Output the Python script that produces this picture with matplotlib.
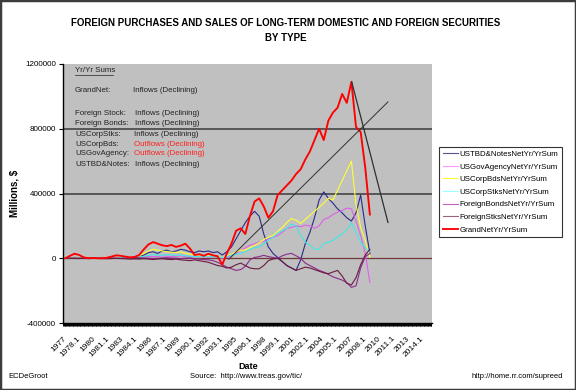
import numpy as np
import matplotlib
matplotlib.use("Agg")
import matplotlib.pyplot as plt
from matplotlib.patches import Rectangle
from matplotlib.ticker import MultipleLocator, FuncFormatter

plt.rcParams['font.family'] = ['Liberation Sans', 'DejaVu Sans']

# observation dates (yr/yr sums, roughly every 6 months)
dates = np.linspace(1977.25, 2009.2, 67)

# values in thousands of millions $
grand_net = [0, 15, 28, 20, 5, 0, 2, 0, 0, 3, 10, 18, 15, 10, 5, 8, 20,
             55, 85, 100, 90, 80, 75, 82, 70, 78, 90, 60, 20, 25, 15, 28, 18, 12,
             -40, 30, 90, 170, 185, 150, 260, 350, 370, 320, 250, 290, 390, 420,
             450, 480, 520, 550, 610, 660, 730, 800, 730, 850, 900, 930, 1015,
             960, 1090, 810, 780, 560, 270]
ustbd = [0, 2, 5, 3, 0, -2, 0, 2, 5, 3, 0, 2, 5, 8, 5, 3, 10,
         20, 35, 40, 30, 45, 50, 40, 45, 55, 50, 40, 35, 45, 40, 45, 35, 40,
         20, 40, 70, 120, 170, 220, 260, 290, 260, 150, 70, 30, 5, -20, -45,
         -60, -75, -10, 90, 160, 250, 360, 410, 370, 340, 305, 280, 250, 230,
         280, 390, 200, 30]
us_gov_agency = [0, 0, 2, 3, 2, 0, 0, 2, 3, 5, 3, 2, 3, 5, 8, 10, 8, 10, 12,
                 10, 12, 15, 12, 10, 12, 15, 10, 8, 10, 12, 10, 8, 10, 5,
                 0, 5, 15, 30, 50, 65, 80, 90, 100, 105, 120, 130, 140, 160,
                 185, 190, 200, 195, 205, 200, 185, 200, 240, 250, 270, 285,
                 295, 310, 305, 230, 140, 30, -150]
us_corp_bds = [0, 3, 5, 3, 0, 0, 2, 3, 5, 5, 3, 5, 8, 6, 5, 8,
               15, 30, 45, 55, 50, 45, 40, 38, 35, 40, 30, 25, 20, 18, 15, 15,
               12, 10, 5, 15, 25, 40, 50, 50, 65, 80, 95, 115, 130, 140, 165,
               190, 220, 245, 235, 215, 240, 265, 290, 315, 340, 370, 360, 420,
               480, 540, 600, 330, 190, 110, 5]
us_corp_stks = [0, 0, 1, 2, 0, 0, 1, 2, 3, 2, 1, 2, 3, 4, 3, 5, 8,
                12, 18, 22, 20, 18, 22, 20, 18, 20, 15, 12, 10, 12, 10, 12, 10,
                8, 5, 10, 20, 25, 30, 40, 55, 65, 70, 90, 110, 130, 155, 170,
                185, 210, 200, 140, 100, 80, 55, 55, 90, 100, 110, 130, 150,
                175, 220, 160, 100, 65, 37]
foreign_bonds = [0, 1, 2, 1, 0, -1, 0, 1, 2, 3, 2, 1, 0, 2, 3, 5, 3, 2, 0,
                 -2, 0, 2, 3, 1, 0, -2, 0, 2, -3, -5, -8,
                 -10, -15, -25, -40, -55, -65, -75, -70, -50, -10, 5, 10, 18,
                 10, 5, 0, 15, 25, 30, 15, 0, -30, -45, -60, -75, -85, -100,
                 -115, -125, -135, -150, -180, -170, -60, 10, 30]
foreign_stks = [0, 0, -1, -2, 0, 1, 0, -1, -2, -3, -2, 0, -2, -3, -5, -4, -5,
                -3, -5, -8, -5, -3, -6, -8, -5, -10,
                -12, -15, -10, -15, -20, -25, -35, -45, -50, -60, -55, -40,
                -30, -45, -60, -65, -65, -45, -15, -5, 0, -20, -45, -60, -75,
                -65, -55, -60, -70, -80, -90, -95, -85, -75, -110, -155, -165,
                -120, -40, 20, 55]

# hand-drawn trend lines (year, value)
trend_up = ([1994.4, 2011.1], [-6, 966])
trend_down = ([2007.3, 2011.1], [1089, 221])

tick_labels = ['1977', '1978.1', '1980', '1981.1', '1983', '1984.1', '1986',
               '1987.1', '1989', '1990.1', '1992', '1993.1', '1995', '1996.1',
               '1998', '1999.1', '2001', '2002.1', '2004', '2005.1', '2007',
               '2008.1', '2010', '2011.1', '2013', '2014.1']

series = [
    ('USTBD&NotesNetYr/YrSum', ustbd, '#2a2a8c', '#55558f', 0.8),
    ('USGovAgencyNetYr/YrSum', us_gov_agency, '#e060e8', '#ff99ff', 0.8),
    ('USCorpBdsNetYr/YrSum', us_corp_bds, '#ffff33', '#ffff33', 0.8),
    ('USCorpStksNetYr/YrSum', us_corp_stks, '#40e8e8', '#99ffff', 0.8),
    ('ForeignBondsNetYr/YrSum', foreign_bonds, '#8a2a8a', '#c060c0', 0.8),
    ('ForeignStksNetYr/YrSum', foreign_stks, '#6a1a40', '#a06080', 0.8),
    ('GrandNetYr/YrSum', grand_net, '#ff0000', '#ff0000', 1.35),
]

fig = plt.figure(figsize=(5.76, 3.9), dpi=100)
ax = fig.add_axes([63/576, 1-323/390, 369/576, 259/390])
ax.set_facecolor('#c0c0c0')

for y in [400000, 800000]:
    ax.axhline(y, color='#3a3a3a', lw=1.1, zorder=1)
ax.axhline(0, color='#703838', lw=0.9, zorder=1)

handles = []
for name, vals, col, lcol, lw in series:
    ax.plot(dates, np.array(vals) * 1000, color=col, lw=lw, zorder=3)
    h, = plt.plot([], [], color=lcol, lw=lw, label=name)
    handles.append(h)

ax.plot(trend_up[0], np.array(trend_up[1]) * 1000, color='#303030', lw=0.7, zorder=4)
ax.plot(trend_down[0], np.array(trend_down[1]) * 1000, color='#303030', lw=0.9, zorder=4)

ax.set_xlim(1977, 1977 + 369/9.53)
ax.set_ylim(-400000, 1200000)
ax.set_xticks(1977 + 1.5*np.arange(len(tick_labels)))
ax.set_xticklabels(tick_labels, rotation=45, ha='right', rotation_mode='anchor', fontsize=6)
ax.xaxis.set_minor_locator(MultipleLocator(1/12))
ax.tick_params(axis='x', which='both', length=2.5, width=0.7, direction='out', pad=6)
ax.set_yticks([-400000, 0, 400000, 800000, 1200000])
ax.yaxis.set_major_formatter(FuncFormatter(lambda v, p: '%d' % v))
ax.tick_params(axis='y', labelsize=5.8, length=3, width=0.8, pad=2)
ax.spines['top'].set_visible(False)
ax.spines['right'].set_visible(False)
ax.spines['left'].set_linewidth(1.0)
ax.spines['bottom'].set_linewidth(1.0)

ax.set_ylabel('Millions, $', fontsize=7, fontweight='bold', labelpad=4)
ax.set_xlabel('Date', fontsize=6.5, fontweight='bold')
ax.xaxis.set_label_coords((248-63)/369, (323-362)/259)

fig.text(286/576, 1-23/390, 'FOREIGN PURCHASES AND SALES OF LONG-TERM DOMESTIC AND FOREIGN SECURITIES',
         ha='center', va='center', fontsize=7, fontweight='bold')
fig.text(286/576, 1-38/390, 'BY TYPE', ha='center', va='center', fontsize=7, fontweight='bold')

# text box with status
fig.text(75/576, 1-71/390, 'Yr/Yr Sums', fontsize=5.7, va='center', color='#222222')
fig.add_artist(plt.Line2D([75/576, 113/576], [1-75/390, 1-75/390], color='#222222', lw=0.5))
status = [
    ('GrandNet:', 'Inflows (Declining)', 91, 133, '#222222'),
    ('Foreign Stock:', 'Inflows (Declining)', 113, 135, '#222222'),
    ('Foreign Bonds:', 'Inflows (Declining)', 123.5, 135, '#222222'),
    ('USCorpStks:', 'Inflows (Declining)', 134, 134, '#222222'),
    ('USCorpBds:', 'Outflows (Declining)', 144, 134, '#ff2020'),
    ('USGovAgency:', 'Outflows (Declining)', 154, 134, '#ff2020'),
    ('USTBD&Notes:', 'Inflows (Declining)', 164, 135, '#222222'),
]
for lab, val, yp, xp, col in status:
    fig.text(75/576, 1-yp/390, lab, fontsize=5.7, va='center', color='#222222')
    fig.text(xp/576, 1-yp/390, val, fontsize=5.7, va='center', color=col)

leg = fig.legend(handles=handles, loc='upper left', bbox_to_anchor=(439/576, 1-147/390),
                 bbox_transform=fig.transFigure, fontsize=5.65, frameon=True, fancybox=False,
                 edgecolor='#000000', borderaxespad=0, handlelength=2.0, handletextpad=0.2,
                 labelspacing=0.65, borderpad=0.45)
leg.get_frame().set_linewidth(0.8)

fig.text(8/576, 1-376/390, 'ECDeGroot', fontsize=5.5, va='center')
fig.text(246/576, 1-377/390, 'Source:  http://www.treas.gov/tic/', fontsize=5.5, va='center', ha='center')
fig.text(563/576, 1-377/390, 'http://home.rr.com/supreed', fontsize=5.5, va='center', ha='right')

fig.add_artist(Rectangle((0, 0), 1, 1, transform=fig.transFigure, fill=False,
                         edgecolor='#3c3c3c', lw=2.5))

fig.savefig('out.png', dpi=100)
